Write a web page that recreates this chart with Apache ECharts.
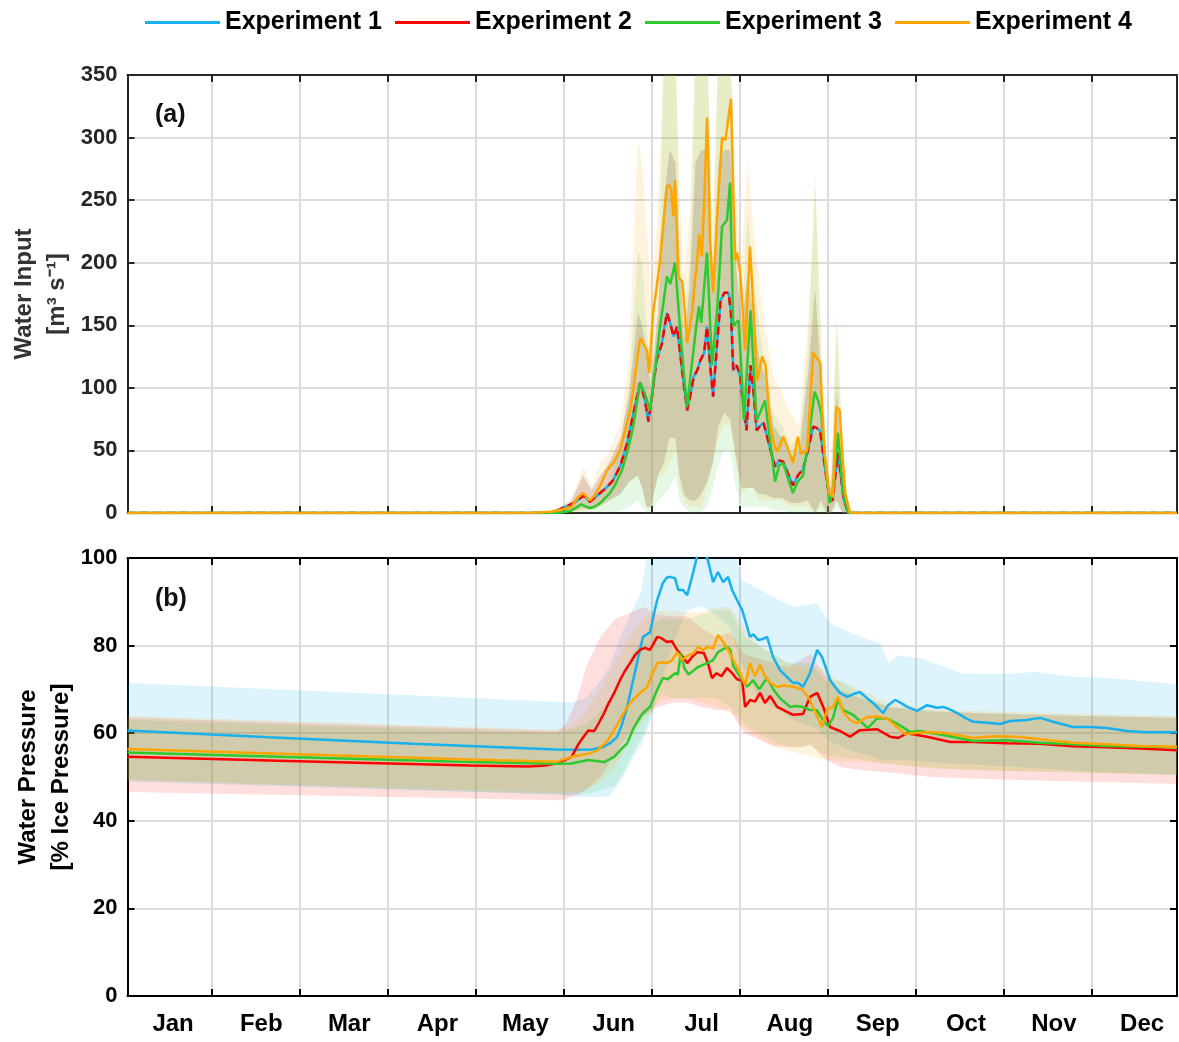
<!DOCTYPE html>
<html><head><meta charset="utf-8">
<script src="https://cdn.jsdelivr.net/npm/echarts@6/dist/echarts.min.js"></script>
<style>html,body{margin:0;padding:0;background:#fff}#c{width:1179px;height:1042px}</style>
</head><body><div id="c"></div>
<script>
// ---------- axis ticks / labels ----------
const monthTicks = [30.1, 60.7, 91.2, 121.8, 152.4, 182.9, 213.4, 244, 274.5, 305, 335.6];
const monthLabelDays = [16.8, 47.4, 77.9, 108.5, 139, 169.6, 200.1, 230.7, 261.2, 291.8, 322.3, 352.9];
const monthNames = ['Jan','Feb','Mar','Apr','May','Jun','Jul','Aug','Sep','Oct','Nov','Dec'];
const seriesNames = ['Experiment 1','Experiment 2','Experiment 3','Experiment 4'];

// ---------- panel (a): water input, mean lines [day, value] ----------
const exp1Top = [[1,0],[146,0],[149,1],[152,4],[155,7],[157,10],[159.2,14],[161.4,9],[164.9,16],[167,20],[169.4,26],[172,38],[174.3,56],[176.5,80],[178.8,104],[180.3,92],[181.7,73],[183,95],[184.5,122],[186.3,135],[188.1,160],[189.2,152],[190.4,141],[191.6,149],[193.3,115],[195.1,82],[196.3,95],[197.4,109],[198.6,114],[199.7,122],[201,128],[202,149],[203,120],[204.1,93],[205.3,130],[206.7,170],[208,176],[209.5,176],[210.3,160],[211.1,114],[212.3,118],[213.5,109],[214.6,85],[215.7,66],[217.1,118],[218.2,95],[219.2,66],[220.5,70],[221.6,72],[223.5,55],[225.6,37],[227,42],[228.4,41],[230,32],[231.8,22],[233.5,30],[235.3,35],[237,50],[238.8,69],[240,68],[241.2,66],[243,35],[244.5,11],[245.5,10],[247.4,48],[248.4,30],[249.4,11],[251,0],[365,0]];
// Experiment 2 is indistinguishable from Experiment 1 in panel (a) (drawn dashed on top)
const exp2Top = exp1Top;
const exp3Top = [[1,0],[150,0],[153,1],[155,2],[158.4,7],[160,5],[161.4,4],[163,5],[165,8],[168,15],[170,22],[172.5,34],[174.5,50],[176.4,69],[178.8,104],[180.5,95],[182.2,82],[184,115],[185.7,149],[187,170],[188.1,189],[189.3,183],[190.9,200],[192.6,149],[194,110],[195.1,85],[196.3,110],[197.3,130],[198.3,150],[199.2,165],[200,152],[201,180],[202,208],[202.9,160],[203.7,118],[204.6,140],[205.5,162],[206.5,200],[207.2,229],[208.9,234],[210,264],[210.6,200],[211.1,149],[212,152],[212.9,154],[213.8,120],[214.8,74],[216,120],[217.1,162],[218.2,115],[219.2,74],[220.7,82],[222.1,90],[224,55],[225.6,25],[227,38],[228.4,40],[230,28],[231.8,16],[233.5,25],[235.3,30],[237.3,60],[239.3,97],[240.5,90],[241.6,80],[243,40],[244.5,8],[245.5,15],[247.4,64],[248.3,40],[249.2,16],[251,0],[365,0]];
const exp4Top = [[1,0],[140,0],[148,1],[152,3],[155,5],[157,12],[159,16],[161.4,10],[163,14],[165,22],[167.3,34],[170,42],[171.8,50],[173.5,65],[175.3,82],[176.5,100],[177.7,122],[178.8,140],[180,135],[181.2,130],[181.9,112],[183.3,160],[184.5,180],[185.7,202],[187,235],[188.1,261],[189,262],[189.6,258],[190.3,237],[190.9,266],[191.5,230],[192,189],[193.4,185],[194.3,160],[195.1,136],[196,148],[196.8,160],[197.8,185],[198.6,202],[199.2,223],[200.2,205],[201.2,260],[202,316],[202.6,270],[203,220],[204.1,176],[204.8,205],[205.5,237],[206.4,270],[207.2,300],[208.4,298],[209.3,314],[210.3,331],[211.1,255],[211.8,202],[212.4,208],[213.5,192],[214.4,160],[215.2,130],[216.1,175],[216.9,213],[218,168],[219.4,106],[220.3,115],[221.1,125],[222.3,118],[223.2,90],[224,69],[225.2,55],[226.3,49],[228.4,61],[230,52],[231.8,40],[233.5,61],[234.5,47],[236.7,50],[237.8,90],[238.8,128],[240,124],[241.2,120],[242,80],[242.8,48],[244.3,16],[245.7,13],[246.8,85],[248,82],[249,45],[249.9,16],[251.6,0],[365,0]];

// ---------- panel (a): spread bands ----------
const topBandDays = [140,150,155,159,162,165,168,172,175,178,179.5,181,182.5,185,187,189,191,192.5,194,196,198,200,202,204,206,208,210,212,214,216,218,220,222,225,228,231,234,237,239.5,241.5,243.5,245,247,249,251,253];
const exp1TopLo = [0,0,1,4,3,6,10,15,25,30,20,5,5,30,40,60,60,30,15,10,10,15,25,40,70,80,75,45,20,20,20,15,15,12,12,8,8,10,0,10,0,0,10,0,0,0];
const exp1TopHi = [0,2,10,30,18,30,40,60,95,160,150,130,100,160,250,290,280,200,140,180,280,290,290,180,280,290,290,200,150,190,160,125,110,70,60,45,50,110,180,110,25,20,100,30,2,0];
const exp3TopLo = [0,0,0,0,0,0,0,2,5,10,5,0,0,10,15,20,30,10,5,0,0,0,5,20,40,50,50,20,5,5,5,5,5,2,2,0,0,0,0,0,0,0,5,0,0,0];
const exp3TopHi = [0,1,5,14,10,18,25,55,100,210,200,150,110,160,360,380,380,220,150,200,360,380,380,200,380,380,380,220,150,240,190,150,120,80,70,55,60,130,260,130,30,25,150,45,3,0];
const exp4TopLo = [0,0,0,2,2,5,10,18,25,30,20,5,5,30,30,40,50,20,10,5,5,5,20,40,60,70,70,40,15,20,20,10,10,10,10,5,5,5,0,5,0,0,10,0,0,0];
const exp4TopHi = [0,3,12,37,22,40,48,72,125,300,280,229,180,240,380,380,380,255,190,240,380,380,380,229,380,380,380,255,200,282,230,189,149,110,96,80,69,150,271,150,40,30,162,60,5,0];

// ---------- panel (b): water pressure, mean lines [day, value] ----------
const exp1Bot = [[1,60.6],[50,59.1],[100,57.6],[150,56.3],[156.9,56.2],[162,56.3],[165.9,56.8],[168.5,57.8],[170.8,59.1],[172.5,62],[174.3,66],[176,71],[177.7,76],[179.8,82],[181,82.5],[182.2,83],[183.5,87],[184.7,90.4],[186.7,94.3],[188,95.5],[189.2,95.7],[190.9,95.4],[192,92.7],[193.7,92.7],[195.1,91.5],[196.8,95.7],[198.6,100.5],[200.3,103],[202.3,99.5],[204.1,94.5],[205.8,96.8],[207.6,94.5],[209.3,95.7],[210.7,92.7],[212.4,90.4],[214.2,88.1],[215.9,84.3],[216.9,82],[218,82.6],[219.7,81.3],[221.3,81.5],[222.8,82],[224.9,77.4],[227.3,74.4],[229.5,73],[231.8,71.5],[233.5,71.5],[235.3,70.6],[237.7,73.7],[240.2,79],[241.9,77.4],[244.7,72.1],[246.5,70.5],[248.1,69.2],[250.6,68.3],[253,69],[255,69.4],[257.5,68],[259.6,66.9],[263.1,64.6],[264.8,66.4],[267.2,67.6],[269,67],[271.4,66],[274.9,65.1],[278.3,66.4],[281.8,65.8],[283.9,66],[286,65.5],[288.8,64.6],[291.5,63.5],[294.3,62.6],[299.1,62.4],[303.6,62.1],[307.1,62.8],[313,63],[317.5,63.5],[322,62.6],[328.9,61.4],[334.8,61.4],[340.7,61.2],[347.6,60.5],[354.6,60.2],[365,60.2]];
const exp2Bot = [[1,54.6],[60,53.6],[120,52.6],[140,52.4],[146,52.6],[149,53],[152.4,53.8],[155,54.6],[157.4,57.5],[159,59],[160.8,60.6],[162.9,60.5],[164.6,62.5],[166.3,64.6],[168,67],[169.8,69.2],[171.8,72.1],[173.5,74.2],[175.3,76],[177,77.8],[178.8,79],[180.5,79.5],[182.2,79],[183.5,80.5],[184.7,82],[186.2,81.7],[188.1,80.8],[189.8,81],[191.6,79],[193.7,77.4],[195.1,76],[196.8,77.4],[198.6,78.5],[200.9,78.3],[202.3,76],[203.7,72.6],[205.3,73.7],[207,73],[208.9,74.9],[210.7,73.7],[212.4,72.3],[214.2,72],[215.2,66],[216.9,67.6],[218.6,67.2],[220.4,69.2],[222.1,66.9],[223.9,68.5],[226.3,66],[228.4,65.3],[231.8,64.2],[235.3,64.4],[237.7,68.3],[240.2,69.2],[242.3,66],[244.7,61.4],[248.1,60.5],[251.6,59.2],[255,60.7],[261,60.9],[265.5,59.2],[268.3,58.9],[271.4,60],[278.3,59.2],[286.4,58],[294.3,58],[306,57.7],[317.5,57.6],[328.9,57],[340.7,56.8],[352.1,56.5],[365,56.1]];
const exp3Bot = [[1,55.6],[60,54.5],[120,53.4],[150,53],[155,53.1],[160.8,53.9],[166.3,53.4],[169.8,54.6],[172,56.2],[174.3,57.7],[176.4,61],[178.8,63.7],[179.8,64.6],[182.2,66],[184.7,69.9],[186.7,72.6],[188.4,72.3],[190.9,73.7],[191.9,73.4],[192.9,78.3],[194.1,74.9],[195.6,73.4],[198.6,75],[202,76],[204.1,76.7],[205.8,78.5],[209,79.7],[210.1,79],[211.1,75.3],[213.5,72.8],[215.9,70.6],[218,72.1],[220.1,70],[222.8,72.6],[224.9,70.1],[227.3,68],[230.8,66],[233,66.2],[235.3,66],[237.7,65.3],[240,65.3],[242.3,63],[243.9,61.6],[245.7,63.5],[247.4,67.6],[249.2,65.3],[252.6,64.2],[257.8,61.2],[261,63.4],[264.5,63.3],[267.9,62.2],[272.4,60.3],[276,60.5],[282.9,59.7],[294.3,58.2],[306,58.4],[317.5,57.8],[328.9,57.5],[340.7,57.1],[365,56.8]];
const exp4Bot = [[1,56.4],[60,55.2],[120,54],[150,53.5],[155,54.6],[160.8,55.3],[164.2,56.2],[167.6,58.4],[171.1,62.3],[174.3,66],[176.5,67.8],[178.8,69.2],[181.2,70.5],[183,73.5],[184.7,76],[186.5,76.2],[188.1,76],[189.9,76.7],[191.6,78.5],[193.4,76.7],[195.1,77.6],[197.4,78.3],[198.9,79.7],[200.6,79],[202.3,79.7],[204.1,79.4],[205.8,82.4],[207.6,80.8],[209.3,79],[211.1,76.7],[213.5,73.7],[215.2,71],[216.9,76],[218.6,73],[220.4,75.6],[222.1,73],[223.9,71.5],[226.3,70.6],[228.6,70.9],[232,70.6],[235.3,69.9],[237.7,67.6],[240.2,63.7],[241.9,61.4],[243.6,65.3],[245.7,66],[247.4,68.3],[249.2,64.9],[251.6,63],[254,62.3],[257.5,63.7],[261,63.8],[264.5,63.3],[267.9,61.4],[270.7,59.8],[278.3,60.3],[285.3,60],[294.3,58.9],[301.2,59.3],[309.5,59.2],[317.5,58.6],[328.9,57.8],[340.7,57.5],[352.1,57.1],[365,56.9]];

// ---------- panel (b): spread bands ----------
const exp1BandDays = [1,150,155,160,165,168,172,176,179,182,185,190,195,200,205,210,214,220,225,232,240,245,252,258,262,265,268,277,290,304,316,329,341,365];
const exp1BandLo = [49,46,45.5,45.5,45.5,45.5,49,54,57,62,70,80,88,89,87,84,76,68,66,63,61,58,56,55,54,54,54,53.5,53,52.5,52,51.5,51,50.5];
const exp1BandHi = [71.5,67.2,67,68,72,75,82,88,92,103,110,110,110,110,110,108,95,93,91,88.8,89.7,85,82.9,81.3,80.6,76,77.8,77,73.7,73.5,74,72.9,72.6,71.2];
const exp2BandDays = [1,150,153,157,160,165,170,175,180,185,190,195,200,205,210,213,215,220,225,230,235,238,242,248,255,265,280,300,330,365];
const exp2BandLo = [46.6,44.7,45,46,47,50,55,60,64,66,67,67,66,65.3,65,62,60,58.5,57,56.8,56.8,57.5,54.6,52.3,51.6,51,50,49.5,49,48.4];
const exp2BandHi = [63.5,60.5,62,68,75,82,86,87.4,88.8,87,86.7,86.7,84,82,83,80,78,77,76,75,77,78,74,70,68,66,65,64.5,64,63.5];
const exp3BandDays = [1,150,160,165,170,173,176,180,183,186,190,195,200,205,210,215,220,225,230,238,243,248,255,265,280,300,330,365];
const exp3BandLo = [49.3,46,46,47,48,51,55,60,65,69,68,68,68,68,66,62,60,58,57,57,55,54.5,54,53,52,51.5,51,50.5];
const exp3BandHi = [63,60,62,65,70,74,78,82,85,86,86,86,87,88,88,82,80,78,76,76,72,72,69,66,65,64.5,64,63.5];
const exp4BandDays = [1,150,155,160,165,170,175,180,185,190,195,200,205,210,215,220,225,230,236,242,248,255,265,280,300,330,365];
const exp4BandLo = [49.3,46.5,46.5,47,49,52,58,63,67,68,68,67,66,65,61,59,57,56,55,54,53.5,53.5,53,52,51.5,51,50.5];
const exp4BandHi = [64,60.8,61.5,65,70,76,82,86,88,88,87.6,87.6,88.8,88.8,84,80,78,76,75,75,72,70,67,65.5,65,64.5,64];

// ---------- styling ----------
const FONT = '"Liberation Sans", Arial, sans-serif';
const COLORS = ['#18B1EE', '#FF0000', '#2EC92E', '#FFA500'];
const BANDS = ['rgba(24,177,238,0.14)', 'rgba(255,0,0,0.13)', 'rgba(46,201,46,0.13)', 'rgba(255,165,0,0.13)'];
const AX_TOP = '#262626', AX_BOT = '#000000', GRIDC = '#dcdcdc';

function lineSeries(name, data, i, xi, yi, dashed) {
  return {
    type: 'line', name: name, xAxisIndex: xi, yAxisIndex: yi, data: data,
    symbol: 'none', showSymbol: false, z: 5, silent: true,
    itemStyle: { color: COLORS[i] },
    lineStyle: { color: COLORS[i], width: 2.5, type: dashed ? [8, 5] : 'solid' }
  };
}
// uncertainty band: polygon between lo and hi, positioned with the axes' own scales
function bandSeries(days, lo, hi, i, xi, yi) {
  const pts = days.map((d, k) => [d, lo[k], hi[k]]);
  return {
    type: 'custom', xAxisIndex: xi, yAxisIndex: yi, silent: true, z: 2, clip: true,
    data: pts, encode: { x: 0, y: [1, 2] },
    renderItem: function (params, api) {
      if (params.dataIndex !== 0) return null;
      const upper = pts.map(p => api.coord([p[0], p[2]]));
      const lower = pts.map(p => api.coord([p[0], p[1]])).reverse();
      return { type: 'polygon', shape: { points: upper.concat(lower) }, style: { fill: BANDS[i], stroke: null } };
    }
  };
}

function xAxisCfg(grid, pos, color, withLabels, withSplit) {
  return {
    gridIndex: grid, type: 'value', min: 1, max: 365, position: pos,
    axisLine: { show: true, onZero: false, lineStyle: { color: color, width: 2 } },
    axisTick: { show: true, inside: true, length: 7, customValues: monthTicks, lineStyle: { color: color, width: 2 } },
    axisLabel: withLabels ? {
      show: true, customValues: monthLabelDays, margin: 16,
      fontFamily: FONT, fontSize: 24, fontWeight: 'bold', color: '#000',
      formatter: function (v) {
        let idx = 0, best = 1e9;
        monthLabelDays.forEach((d, k) => { if (Math.abs(d - v) < best) { best = Math.abs(d - v); idx = k; } });
        return monthNames[idx];
      }
    } : { show: false },
    splitLine: { show: withSplit, lineStyle: { color: GRIDC, width: 2 } }
  };
}
function yAxisCfg(grid, pos, max, interval, color, name, nameColor, gap) {
  const left = pos === 'left';
  return {
    gridIndex: grid, type: 'value', min: 0, max: max, interval: interval, position: pos,
    axisLine: { show: true, onZero: false, lineStyle: { color: color, width: 2 } },
    axisTick: { show: true, inside: true, length: 7, lineStyle: { color: color, width: 2 } },
    axisLabel: left ? { show: true, margin: 10, fontFamily: FONT, fontSize: 22, fontWeight: 'bold', color: color } : { show: false },
    splitLine: { show: left, lineStyle: { color: GRIDC, width: 2 } },
    name: left ? name : '', nameLocation: 'middle', nameGap: gap, nameMoveOverlap: false,
    nameTextStyle: { fontFamily: FONT, fontSize: 24, fontWeight: 'bold', color: nameColor, lineHeight: 33 }
  };
}

const series = [];
// panel (b) lines first so that legend icons come from the solid lines
const botData = [exp1Bot, exp2Bot, exp3Bot, exp4Bot];
botData.forEach((d, i) => series.push(lineSeries(seriesNames[i], d, i, 2, 2, false)));
// panel (b) bands
series.push(bandSeries(exp1BandDays, exp1BandLo, exp1BandHi, 0, 2, 2));
series.push(bandSeries(exp2BandDays, exp2BandLo, exp2BandHi, 1, 2, 2));
series.push(bandSeries(exp3BandDays, exp3BandLo, exp3BandHi, 2, 2, 2));
series.push(bandSeries(exp4BandDays, exp4BandLo, exp4BandHi, 3, 2, 2));
// panel (a) bands
series.push(bandSeries(topBandDays, exp1TopLo, exp1TopHi, 0, 0, 0));
series.push(bandSeries(topBandDays, exp1TopLo, exp1TopHi, 1, 0, 0));
series.push(bandSeries(topBandDays, exp3TopLo, exp3TopHi, 2, 0, 0));
series.push(bandSeries(topBandDays, exp4TopLo, exp4TopHi, 3, 0, 0));
// panel (a) lines
series.push(lineSeries(seriesNames[0], exp1Top, 0, 0, 0, false));
series.push(lineSeries(seriesNames[1], exp2Top, 1, 0, 0, true));
series.push(lineSeries(seriesNames[2], exp3Top, 2, 0, 0, false));
series.push(lineSeries(seriesNames[3], exp4Top, 3, 0, 0, false));

const chart = echarts.init(document.getElementById('c'), null, { renderer: 'canvas' });
chart.setOption({
  animation: false,
  backgroundColor: '#ffffff',
  legend: {
    data: seriesNames.map((n, i) => ({ name: n, icon: 'rect', itemStyle: { color: COLORS[i] } })),
    left: 140, top: 5, itemWidth: 75, itemHeight: 3, itemGap: 13,
    textStyle: { fontFamily: FONT, fontSize: 25, fontWeight: 'bold', color: '#000' },
    selectedMode: false
  },
  grid: [
    { left: 127.5, right: 2, top: 75, height: 438, outerBoundsMode: 'none' },
    { left: 127.5, right: 2, top: 558, height: 438, outerBoundsMode: 'none' }
  ],
  xAxis: [
    xAxisCfg(0, 'bottom', AX_TOP, false, true),
    xAxisCfg(0, 'top', AX_TOP, false, false),
    xAxisCfg(1, 'bottom', AX_BOT, true, true),
    xAxisCfg(1, 'top', AX_BOT, false, false)
  ],
  yAxis: [
    yAxisCfg(0, 'left', 350, 50, AX_TOP, 'Water Input\n[m³ s⁻¹]', '#333333', 54),
    yAxisCfg(0, 'right', 350, 50, AX_TOP, '', '#333', 0),
    yAxisCfg(1, 'left', 100, 20, AX_BOT, 'Water Pressure\n[% Ice Pressure]', '#000000', 50),
    yAxisCfg(1, 'right', 100, 20, AX_BOT, '', '#000', 0)
  ],
  graphic: [
    { type: 'text', left: 155, top: 103, style: { text: '(a)', font: 'bold 25px "Liberation Sans", Arial, sans-serif', fill: '#111' } },
    { type: 'text', left: 155, top: 587, style: { text: '(b)', font: 'bold 25px "Liberation Sans", Arial, sans-serif', fill: '#111' } }
  ],
  series: series
});
</script></body></html>
